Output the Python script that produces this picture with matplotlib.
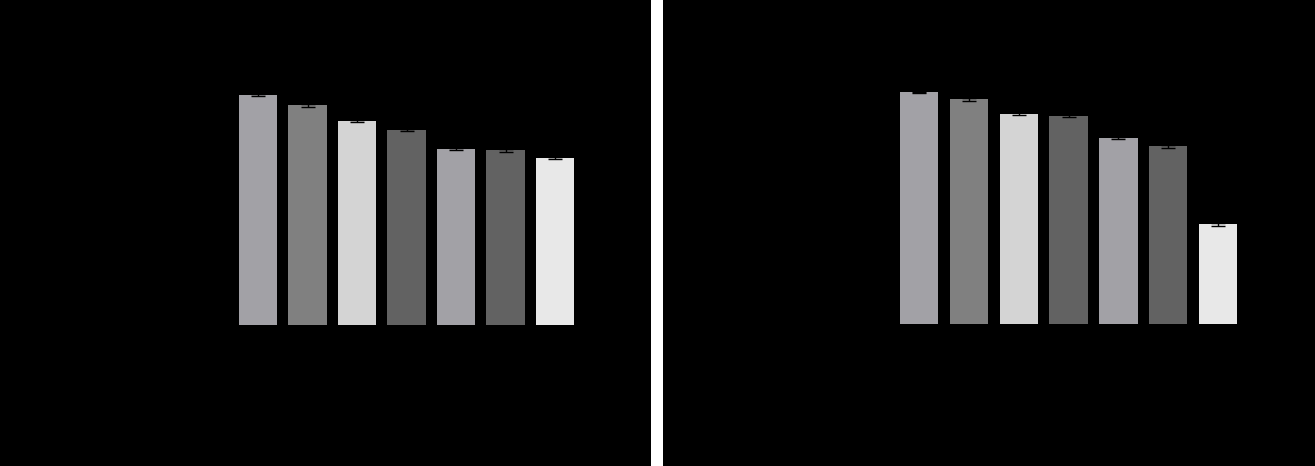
import matplotlib
matplotlib.use("Agg")
import matplotlib.pyplot as plt

# bar heights (relative units)
left_values = [0.92, 0.88, 0.816, 0.78, 0.704, 0.70, 0.668]
left_errors = [0.004, 0.006, 0.004, 0.004, 0.005, 0.006, 0.005]
right_values = [0.927, 0.899, 0.841, 0.833, 0.744, 0.712, 0.399]
right_errors = [0.003, 0.006, 0.006, 0.006, 0.005, 0.006, 0.006]
bar_colors = ["#a2a1a6", "#808080", "#d4d4d4", "#626262", "#a2a1a6", "#626262", "#e8e8e8"]

W, H = 1315, 466
fig = plt.figure(figsize=(W / 100, H / 100), dpi=100, facecolor="white")

# black panels with a white gap between them
for x0, x1 in [(0, 651), (663, 1315)]:
    bg = fig.add_axes([x0 / W, 0, (x1 - x0) / W, 1])
    bg.set_facecolor("black")
    bg.set_xticks([])
    bg.set_yticks([])
    for s in bg.spines.values():
        s.set_visible(False)


def draw_panel(left_px, right_px, bottom_px, values, errors):
    ax = fig.add_axes([left_px / W, (H - bottom_px) / H,
                       (right_px - left_px) / W, 250 / H])
    ax.set_facecolor("none")
    x = list(range(len(values)))
    ax.bar(x, values, width=0.77, color=bar_colors,
           yerr=errors, capsize=5, ecolor="black",
           error_kw={"elinewidth": 1, "capthick": 1})
    ax.set_xlim(-0.5, len(values) - 0.5)
    ax.set_ylim(0, 1)
    ax.set_xticks([])
    ax.set_yticks([])
    for s in ax.spines.values():
        s.set_visible(False)
    return ax


draw_panel(233.25, 579.75, 325, left_values, left_errors)
draw_panel(894.4, 1242.9, 324, right_values, right_errors)

fig.savefig("out.png", dpi=100, facecolor=fig.get_facecolor())
